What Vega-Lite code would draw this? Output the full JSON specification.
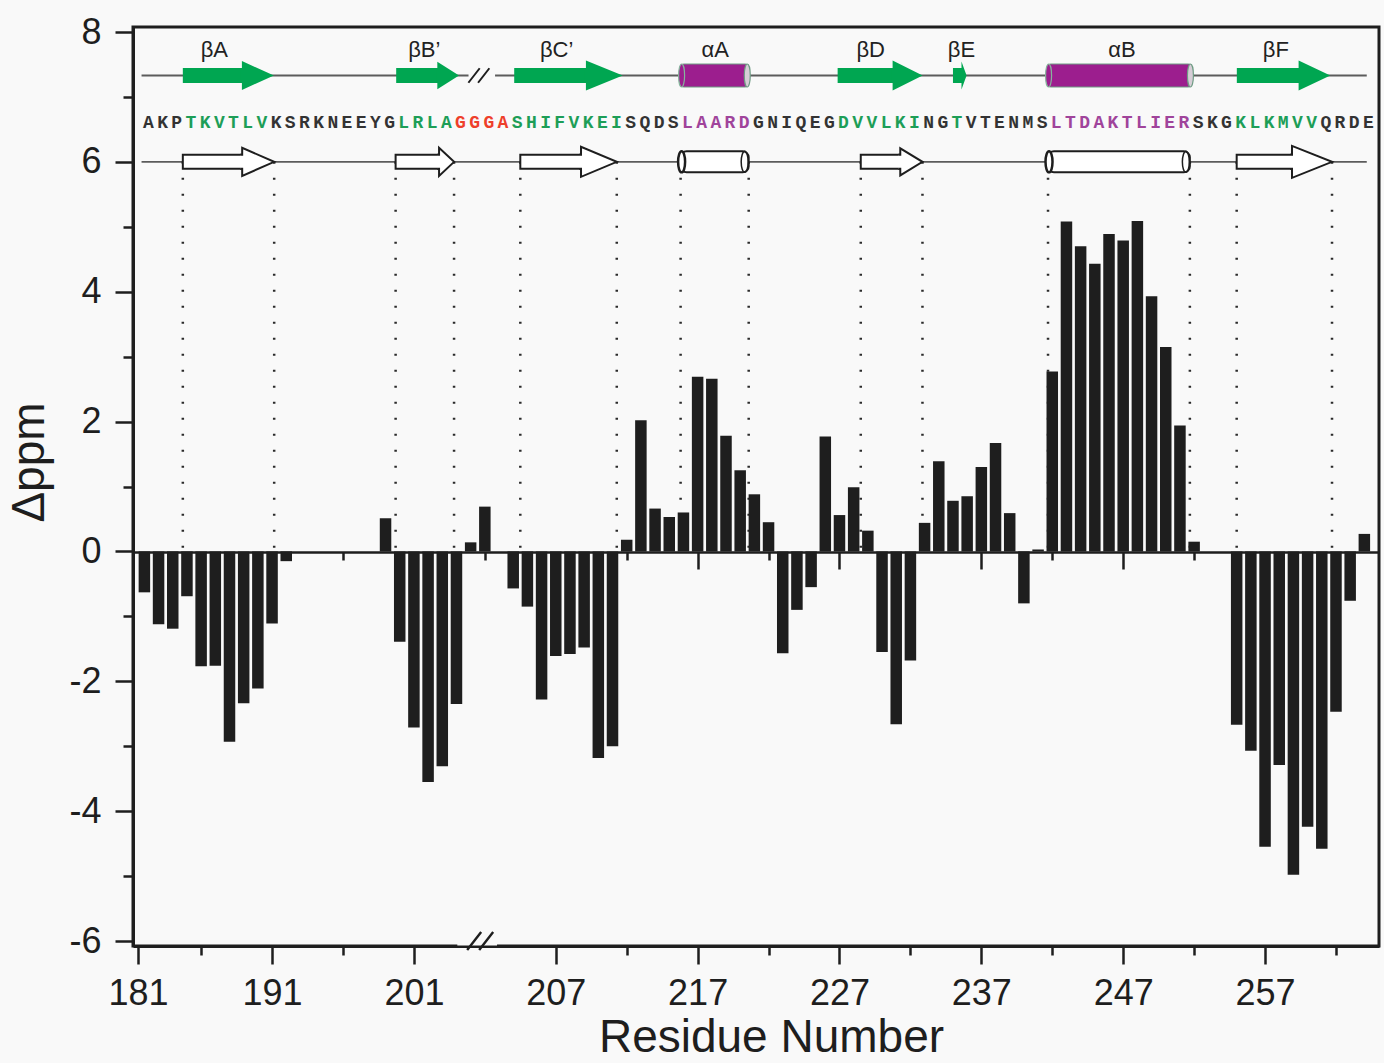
{
  "$schema": "https://vega.github.io/schema/vega-lite/v6.json",
  "width": 1246,
  "height": 919,
  "autosize": "none",
  "padding": {"left": 133, "top": 27, "right": 5, "bottom": 117},
  "background": "#f9f9f9",
  "config": {
    "view": {"stroke": "#1e1e1e", "strokeWidth": 3},
    "axis": {"grid": false, "labelFont": "Liberation Sans", "titleFont": "Liberation Sans", "tickColor": "#1e1e1e", "domainColor": "#1e1e1e", "labelColor": "#1e1e1e", "titleColor": "#1e1e1e", "tickWidth": 2.5, "domainWidth": 3}
  },
  "datasets": {
    "shifts": [
      {"slot": 0, "ppm": -0.63}, {"slot": 1, "ppm": -1.12}, {"slot": 2, "ppm": -1.19}, {"slot": 3, "ppm": -0.69},
      {"slot": 4, "ppm": -1.77}, {"slot": 5, "ppm": -1.76}, {"slot": 6, "ppm": -2.93}, {"slot": 7, "ppm": -2.34},
      {"slot": 8, "ppm": -2.11}, {"slot": 9, "ppm": -1.11}, {"slot": 10, "ppm": -0.15},
      {"slot": 17, "ppm": 0.51}, {"slot": 18, "ppm": -1.39}, {"slot": 19, "ppm": -2.71}, {"slot": 20, "ppm": -3.55},
      {"slot": 21, "ppm": -3.31}, {"slot": 22, "ppm": -2.35}, {"slot": 23, "ppm": 0.14}, {"slot": 24, "ppm": 0.69},
      {"slot": 26, "ppm": -0.57}, {"slot": 27, "ppm": -0.85}, {"slot": 28, "ppm": -2.28}, {"slot": 29, "ppm": -1.61},
      {"slot": 30, "ppm": -1.58}, {"slot": 31, "ppm": -1.48}, {"slot": 32, "ppm": -3.18}, {"slot": 33, "ppm": -3.0},
      {"slot": 34, "ppm": 0.18}, {"slot": 35, "ppm": 2.02}, {"slot": 36, "ppm": 0.66}, {"slot": 37, "ppm": 0.53},
      {"slot": 38, "ppm": 0.6}, {"slot": 39, "ppm": 2.69}, {"slot": 40, "ppm": 2.66}, {"slot": 41, "ppm": 1.78},
      {"slot": 42, "ppm": 1.25}, {"slot": 43, "ppm": 0.88}, {"slot": 44, "ppm": 0.45}, {"slot": 45, "ppm": -1.57},
      {"slot": 46, "ppm": -0.9}, {"slot": 47, "ppm": -0.55}, {"slot": 48, "ppm": 1.77}, {"slot": 49, "ppm": 0.56},
      {"slot": 50, "ppm": 0.99}, {"slot": 51, "ppm": 0.32}, {"slot": 52, "ppm": -1.55}, {"slot": 53, "ppm": -2.66},
      {"slot": 54, "ppm": -1.68}, {"slot": 55, "ppm": 0.44}, {"slot": 56, "ppm": 1.39}, {"slot": 57, "ppm": 0.78},
      {"slot": 58, "ppm": 0.85}, {"slot": 59, "ppm": 1.3}, {"slot": 60, "ppm": 1.67}, {"slot": 61, "ppm": 0.59},
      {"slot": 62, "ppm": -0.8}, {"slot": 63, "ppm": 0.03}, {"slot": 64, "ppm": 2.77}, {"slot": 65, "ppm": 5.08},
      {"slot": 66, "ppm": 4.7}, {"slot": 67, "ppm": 4.43}, {"slot": 68, "ppm": 4.89}, {"slot": 69, "ppm": 4.79},
      {"slot": 70, "ppm": 5.09}, {"slot": 71, "ppm": 3.93}, {"slot": 72, "ppm": 3.15}, {"slot": 73, "ppm": 1.94},
      {"slot": 74, "ppm": 0.15}, {"slot": 77, "ppm": -2.67}, {"slot": 78, "ppm": -3.07}, {"slot": 79, "ppm": -4.55},
      {"slot": 80, "ppm": -3.29}, {"slot": 81, "ppm": -4.98}, {"slot": 82, "ppm": -4.24}, {"slot": 83, "ppm": -4.58},
      {"slot": 84, "ppm": -2.47}, {"slot": 85, "ppm": -0.76}, {"slot": 86, "ppm": 0.27}
    ],
    "topTrack": [
      {"label": "βA", "kind": "strand", "start": 2.71, "headStart": 6.89, "end": 9.13, "labelAt": 4.93},
      {"label": "βB’", "kind": "strand", "start": 17.75, "headStart": 20.66, "end": 22.18, "labelAt": 19.73},
      {"label": "βC’", "kind": "strand", "start": 26.07, "headStart": 31.15, "end": 33.72, "labelAt": 29.06},
      {"label": "αA", "kind": "helix", "start": 37.8, "end": 42.57, "labelAt": 40.24},
      {"label": "βD", "kind": "strand", "start": 48.87, "headStart": 52.76, "end": 54.86, "labelAt": 51.2},
      {"label": "βE", "kind": "strand", "start": 57.0, "headStart": 57.6, "end": 57.96, "labelAt": 57.6},
      {"label": "αB", "kind": "helix", "start": 63.67, "end": 73.81, "labelAt": 68.92},
      {"label": "βF", "kind": "strand", "start": 77.01, "headStart": 81.38, "end": 83.6, "labelAt": 79.76}
    ],
    "bottomTrack": [
      {"label": "βA", "kind": "strand", "start": 2.71, "headStart": 6.91, "end": 9.15},
      {"label": "βB’", "kind": "strand", "start": 17.71, "headStart": 20.78, "end": 21.83},
      {"label": "βC’", "kind": "strand", "start": 26.5, "headStart": 30.8, "end": 33.3},
      {"label": "αA", "kind": "helix", "start": 37.8, "end": 42.6},
      {"label": "βD", "kind": "strand", "start": 50.5, "headStart": 53.3, "end": 54.85},
      {"label": "αB", "kind": "helix", "start": 63.7, "end": 73.7},
      {"label": "βF", "kind": "strand", "start": 77.0, "headStart": 80.92, "end": 83.72}
    ],
    "sequence": [
      {"slot": 0, "aa": "A", "region": "coil"}, {"slot": 1, "aa": "K", "region": "coil"}, {"slot": 2, "aa": "P", "region": "coil"},
      {"slot": 3, "aa": "T", "region": "strand"}, {"slot": 4, "aa": "K", "region": "strand"}, {"slot": 5, "aa": "V", "region": "strand"},
      {"slot": 6, "aa": "T", "region": "strand"}, {"slot": 7, "aa": "L", "region": "strand"}, {"slot": 8, "aa": "V", "region": "strand"},
      {"slot": 9, "aa": "K", "region": "coil"}, {"slot": 10, "aa": "S", "region": "coil"}, {"slot": 11, "aa": "R", "region": "coil"},
      {"slot": 12, "aa": "K", "region": "coil"}, {"slot": 13, "aa": "N", "region": "coil"}, {"slot": 14, "aa": "E", "region": "coil"},
      {"slot": 15, "aa": "E", "region": "coil"}, {"slot": 16, "aa": "Y", "region": "coil"}, {"slot": 17, "aa": "G", "region": "coil"},
      {"slot": 18, "aa": "L", "region": "strand"}, {"slot": 19, "aa": "R", "region": "strand"}, {"slot": 20, "aa": "L", "region": "strand"},
      {"slot": 21, "aa": "A", "region": "strand"}, {"slot": 22, "aa": "G", "region": "linker"}, {"slot": 23, "aa": "G", "region": "linker"},
      {"slot": 24, "aa": "G", "region": "linker"}, {"slot": 25, "aa": "A", "region": "linker"}, {"slot": 26, "aa": "S", "region": "strand"},
      {"slot": 27, "aa": "H", "region": "strand"}, {"slot": 28, "aa": "I", "region": "strand"}, {"slot": 29, "aa": "F", "region": "strand"},
      {"slot": 30, "aa": "V", "region": "strand"}, {"slot": 31, "aa": "K", "region": "strand"}, {"slot": 32, "aa": "E", "region": "strand"},
      {"slot": 33, "aa": "I", "region": "strand"}, {"slot": 34, "aa": "S", "region": "coil"}, {"slot": 35, "aa": "Q", "region": "coil"},
      {"slot": 36, "aa": "D", "region": "coil"}, {"slot": 37, "aa": "S", "region": "coil"}, {"slot": 38, "aa": "L", "region": "helix"},
      {"slot": 39, "aa": "A", "region": "helix"}, {"slot": 40, "aa": "A", "region": "helix"}, {"slot": 41, "aa": "R", "region": "helix"},
      {"slot": 42, "aa": "D", "region": "helix"}, {"slot": 43, "aa": "G", "region": "coil"}, {"slot": 44, "aa": "N", "region": "coil"},
      {"slot": 45, "aa": "I", "region": "coil"}, {"slot": 46, "aa": "Q", "region": "coil"}, {"slot": 47, "aa": "E", "region": "coil"},
      {"slot": 48, "aa": "G", "region": "coil"}, {"slot": 49, "aa": "D", "region": "strand"}, {"slot": 50, "aa": "V", "region": "strand"},
      {"slot": 51, "aa": "V", "region": "strand"}, {"slot": 52, "aa": "L", "region": "strand"}, {"slot": 53, "aa": "K", "region": "strand"},
      {"slot": 54, "aa": "I", "region": "strand"}, {"slot": 55, "aa": "N", "region": "coil"}, {"slot": 56, "aa": "G", "region": "coil"},
      {"slot": 57, "aa": "T", "region": "strand"}, {"slot": 58, "aa": "V", "region": "coil"}, {"slot": 59, "aa": "T", "region": "coil"},
      {"slot": 60, "aa": "E", "region": "coil"}, {"slot": 61, "aa": "N", "region": "coil"}, {"slot": 62, "aa": "M", "region": "coil"},
      {"slot": 63, "aa": "S", "region": "coil"}, {"slot": 64, "aa": "L", "region": "helix"}, {"slot": 65, "aa": "T", "region": "helix"},
      {"slot": 66, "aa": "D", "region": "helix"}, {"slot": 67, "aa": "A", "region": "helix"}, {"slot": 68, "aa": "K", "region": "helix"},
      {"slot": 69, "aa": "T", "region": "helix"}, {"slot": 70, "aa": "L", "region": "helix"}, {"slot": 71, "aa": "I", "region": "helix"},
      {"slot": 72, "aa": "E", "region": "helix"}, {"slot": 73, "aa": "R", "region": "helix"}, {"slot": 74, "aa": "S", "region": "coil"},
      {"slot": 75, "aa": "K", "region": "coil"}, {"slot": 76, "aa": "G", "region": "coil"}, {"slot": 77, "aa": "K", "region": "strand"},
      {"slot": 78, "aa": "L", "region": "strand"}, {"slot": 79, "aa": "K", "region": "strand"}, {"slot": 80, "aa": "M", "region": "strand"},
      {"slot": 81, "aa": "V", "region": "strand"}, {"slot": 82, "aa": "V", "region": "strand"}, {"slot": 83, "aa": "Q", "region": "coil"},
      {"slot": 84, "aa": "R", "region": "coil"}, {"slot": 85, "aa": "D", "region": "coil"}, {"slot": 86, "aa": "E", "region": "coil"}
    ]
  },
  "layer": [
    {
      "data": {"values": [{}]},
      "mark": {"type": "rule", "stroke": "#5c5c5c", "strokeWidth": 1.8},
      "encoding": {
        "x": {"datum": -0.2, "type": "quantitative", "scale": {"domain": [-0.45, 86.68], "nice": false, "zero": false}, "axis": null},
        "x2": {"datum": 22.85},
        "y": {"datum": 7.33, "type": "quantitative", "scale": {"domain": [-6, 8], "nice": false},
              "axis": {"orient": "left", "values": [-5, -3, -1, 1, 3, 5, 7], "tickSize": 10, "labels": false, "domain": false, "title": null}}
      }
    },
    {
      "data": {"values": [{}]},
      "mark": {"type": "rule", "stroke": "#5c5c5c", "strokeWidth": 1.8},
      "encoding": {
        "x": {"datum": 24.72, "type": "quantitative", "scale": {"domain": [-0.45, 86.68], "nice": false, "zero": false}, "axis": null},
        "x2": {"datum": 86.17},
        "y": {"datum": 7.33, "type": "quantitative", "scale": {"domain": [-6, 8], "nice": false}, "axis": null}
      }
    },
    {
      "data": {"values": [{}]},
      "mark": {"type": "rule", "stroke": "#5c5c5c", "strokeWidth": 1.8},
      "encoding": {
        "x": {"datum": -0.2, "type": "quantitative", "scale": {"domain": [-0.45, 86.68], "nice": false, "zero": false},
              "axis": {"orient": "bottom", "offset": -394, "values": [4, 14, 24, 34, 44, 54, 64, 74, 84], "tickSize": 8, "labels": false, "domain": false, "title": null}},
        "x2": {"datum": 86.17},
        "y": {"datum": 6, "type": "quantitative", "scale": {"domain": [-6, 8], "nice": false}, "axis": null}
      }
    },
    {
      "data": {"name": "bottomTrack"},
      "transform": [{"fold": ["start", "end"], "as": ["edge", "at"]}],
      "mark": {"type": "rule", "stroke": "#2a2a2a", "strokeWidth": 2.5, "strokeDash": [2, 14]},
      "encoding": {
        "x": {"field": "at", "type": "quantitative", "scale": {"domain": [-0.45, 86.68], "nice": false, "zero": false},
              "axis": {"orient": "bottom", "offset": -394, "values": [9, 19, 29, 39, 49, 59, 69, 79], "tickSize": 17, "labels": false, "domain": true, "domainWidth": 2.5, "title": null}},
        "y": {"datum": 6, "type": "quantitative", "scale": {"domain": [-6, 8], "nice": false}, "axis": null},
        "y2": {"datum": 0}
      }
    },
    {
      "data": {"name": "shifts"},
      "mark": {"type": "bar", "orient": "vertical", "width": 11.5, "color": "#1e1e1e"},
      "encoding": {
        "x": {"field": "slot", "type": "quantitative", "scale": {"domain": [-0.45, 86.68], "nice": false, "zero": false},
              "axis": {"orient": "bottom", "values": [-0.45, 9, 19, 29, 39, 49, 59, 69, 79],
                       "labelExpr": "datum.value < 0 ? '181' : datum.value < 22 ? format(datum.value + 182, 'd') : format(datum.value + 178, 'd')",
                       "tickSize": 18, "labelFontSize": 36, "labelPadding": 12, "labelFlush": false, "labelOverlap": false, "labelBound": false,
                       "title": "Residue Number", "titleFontSize": 46, "titleFontWeight": "normal", "titleX": 638, "titleY": 105,
                       "titleBaseline": "alphabetic", "titleAlign": "center"}},
        "y": {"field": "ppm", "type": "quantitative", "scale": {"domain": [-6, 8], "nice": false},
              "axis": {"orient": "left", "values": [-6, -4, -2, 0, 2, 4, 6, 8], "labelExpr": "'' + datum.value",
                       "tickSize": 18, "labelFontSize": 36, "labelPadding": 14, "labelFlush": false, "labelOverlap": false,
                       "title": "Δppm", "titleFontSize": 46, "titleFontWeight": "normal", "titleAngle": 270, "titleX": -80, "titleY": 435,
                       "titleBaseline": "bottom", "titleAlign": "center"}},
        "y2": {"datum": 0}
      }
    },
    {
      "data": {"name": "topTrack"},
      "transform": [{"filter": "datum.kind === 'strand'"}],
      "mark": {"type": "bar", "orient": "horizontal", "height": 15, "color": "#00a651"},
      "encoding": {
        "x": {"field": "start", "type": "quantitative", "scale": {"domain": [-0.45, 86.68], "nice": false, "zero": false}, "axis": null},
        "x2": {"field": "headStart"},
        "y": {"datum": 7.33, "type": "quantitative", "scale": {"domain": [-6, 8], "nice": false}, "axis": null}
      }
    },
    {
      "data": {"name": "topTrack"},
      "transform": [{"filter": "datum.kind === 'strand'"}],
      "mark": {"type": "point", "filled": true, "size": 4, "opacity": 1, "color": "#00a651", "strokeWidth": 0},
      "encoding": {
        "x": {"field": "end", "type": "quantitative", "scale": {"domain": [-0.45, 86.68], "nice": false, "zero": false}, "axis": null},
        "y": {"datum": 7.33, "type": "quantitative", "scale": {"domain": [-6, 8], "nice": false}, "axis": null},
        "shape": {"field": "label", "type": "nominal", "legend": null,
                  "scale": {"domain": ["βA", "βB’", "βC’", "βD", "βE", "βF"],
                            "range": ["M-33,-7.5L-32,-7.5L-32,-14.5L0,0L-32,14.5L-32,7.5L-33,7.5Z",
                                      "M-22.7,-7.5L-21.7,-7.5L-21.7,-13.7L0,0L-21.7,13.7L-21.7,7.5L-22.7,7.5Z",
                                      "M-37.8,-7.5L-36.8,-7.5L-36.8,-15L0,0L-36.8,15L-36.8,7.5L-37.8,7.5Z",
                                      "M-31,-7.5L-30,-7.5L-30,-15L0,0L-30,15L-30,7.5L-31,7.5Z",
                                      "M-6.1,-7.5L-5.1,-7.5L-5.1,-14L0,0L-5.1,14L-5.1,7.5L-6.1,7.5Z",
                                      "M-32.7,-7.5L-31.7,-7.5L-31.7,-15L0,0L-31.7,15L-31.7,7.5L-32.7,7.5Z"]}}
      }
    },
    {
      "data": {"name": "topTrack"},
      "transform": [{"filter": "datum.kind === 'helix'"}],
      "mark": {"type": "bar", "orient": "horizontal", "height": 23, "color": "#9c1e8e", "stroke": "#6e9c84", "strokeWidth": 1, "cornerRadius": 3},
      "encoding": {
        "x": {"field": "start", "type": "quantitative", "scale": {"domain": [-0.45, 86.68], "nice": false, "zero": false}, "axis": null},
        "x2": {"field": "end"},
        "y": {"datum": 7.33, "type": "quantitative", "scale": {"domain": [-6, 8], "nice": false}, "axis": null}
      }
    },
    {
      "data": {"name": "topTrack"},
      "transform": [{"filter": "datum.kind === 'helix'"}],
      "mark": {"type": "point", "size": 4, "opacity": 1, "filled": true, "fill": "#d6cdd6", "stroke": "#6e9c84", "strokeWidth": 1.2, "xOffset": -1,
               "shape": "M3,0C3,6.35 1.66,11.5 0,11.5C-1.66,11.5 -3,6.35 -3,0C-3,-6.35 -1.66,-11.5 0,-11.5C1.66,-11.5 3,-6.35 3,0Z"},
      "encoding": {
        "x": {"field": "end", "type": "quantitative", "scale": {"domain": [-0.45, 86.68], "nice": false, "zero": false}, "axis": null},
        "y": {"datum": 7.33, "type": "quantitative", "scale": {"domain": [-6, 8], "nice": false}, "axis": null}
      }
    },
    {
      "data": {"name": "topTrack"},
      "transform": [{"filter": "datum.kind === 'helix'"}],
      "mark": {"type": "point", "size": 4, "opacity": 1, "filled": true, "fill": "#9c1e8e", "stroke": "#86b49c", "strokeWidth": 1.2, "xOffset": 1,
               "shape": "M3,0C3,6.35 1.66,11.5 0,11.5C-1.66,11.5 -3,6.35 -3,0C-3,-6.35 -1.66,-11.5 0,-11.5C1.66,-11.5 3,-6.35 3,0Z"},
      "encoding": {
        "x": {"field": "start", "type": "quantitative", "scale": {"domain": [-0.45, 86.68], "nice": false, "zero": false}, "axis": null},
        "y": {"datum": 7.33, "type": "quantitative", "scale": {"domain": [-6, 8], "nice": false}, "axis": null}
      }
    },
    {
      "data": {"name": "topTrack"},
      "mark": {"type": "text", "font": "Liberation Sans", "fontSize": 22, "color": "#222222"},
      "encoding": {
        "x": {"field": "labelAt", "type": "quantitative", "scale": {"domain": [-0.45, 86.68], "nice": false, "zero": false}, "axis": null},
        "y": {"datum": 7.73, "type": "quantitative", "scale": {"domain": [-6, 8], "nice": false}, "axis": null},
        "text": {"field": "label"}
      }
    },
    {
      "data": {"name": "sequence"},
      "mark": {"type": "text", "font": "Liberation Mono", "fontSize": 18, "fontWeight": "bold", "dx": 4},
      "encoding": {
        "x": {"field": "slot", "type": "quantitative", "scale": {"domain": [-0.45, 86.68], "nice": false, "zero": false},
              "axis": {"orient": "bottom", "values": [4, 14, 34, 44, 54, 64, 74, 84], "tickSize": 9, "labels": false, "domain": false, "title": null}},
        "y": {"datum": 6.6, "type": "quantitative", "scale": {"domain": [-6, 8], "nice": false}, "axis": null},
        "text": {"field": "aa"},
        "color": {"field": "region", "type": "nominal", "legend": null,
                  "scale": {"domain": ["coil", "strand", "helix", "linker"], "range": ["#333333", "#1d9e57", "#a0449b", "#ee3f2b"]}}
      }
    },
    {
      "data": {"name": "bottomTrack"},
      "transform": [{"filter": "datum.kind === 'strand'"}],
      "mark": {"type": "bar", "orient": "horizontal", "height": 14, "fill": "#ffffff", "stroke": "#1e1e1e", "strokeWidth": 2},
      "encoding": {
        "x": {"field": "start", "type": "quantitative", "scale": {"domain": [-0.45, 86.68], "nice": false, "zero": false}, "axis": null},
        "x2": {"field": "headStart"},
        "y": {"datum": 6, "type": "quantitative", "scale": {"domain": [-6, 8], "nice": false}, "axis": null}
      }
    },
    {
      "data": {"name": "bottomTrack"},
      "transform": [{"filter": "datum.kind === 'strand'"}],
      "mark": {"type": "point", "filled": true, "size": 4, "opacity": 1, "fill": "#ffffff", "stroke": "#1e1e1e", "strokeWidth": 2},
      "encoding": {
        "x": {"field": "end", "type": "quantitative", "scale": {"domain": [-0.45, 86.68], "nice": false, "zero": false}, "axis": null},
        "y": {"datum": 6, "type": "quantitative", "scale": {"domain": [-6, 8], "nice": false}, "axis": null},
        "shape": {"field": "label", "type": "nominal", "legend": null,
                  "scale": {"domain": ["βA", "βB’", "βC’", "βD", "βF"],
                            "range": ["M-34,-7L-32,-7L-32,-14L0,0L-32,14L-32,7L-34,7",
                                      "M-17,-7L-15,-7L-15,-14L0,0L-15,14L-15,7L-17,7",
                                      "M-37.75,-7L-35.75,-7L-35.75,-15L0,0L-35.75,15L-35.75,7L-37.75,7",
                                      "M-24.2,-7L-22.2,-7L-22.2,-13.5L0,0L-22.2,13.5L-22.2,7L-24.2,7",
                                      "M-42,-7L-40,-7L-40,-16L0,0L-40,16L-40,7L-42,7"]}}
      }
    },
    {
      "data": {"name": "bottomTrack"},
      "transform": [{"filter": "datum.kind === 'helix'"}],
      "mark": {"type": "bar", "orient": "horizontal", "height": 21, "fill": "#ffffff", "stroke": "#1e1e1e", "strokeWidth": 2, "cornerRadius": 6},
      "encoding": {
        "x": {"field": "start", "type": "quantitative", "scale": {"domain": [-0.45, 86.68], "nice": false, "zero": false}, "axis": null},
        "x2": {"field": "end"},
        "y": {"datum": 6, "type": "quantitative", "scale": {"domain": [-6, 8], "nice": false}, "axis": null}
      }
    },
    {
      "data": {"name": "bottomTrack"},
      "transform": [{"filter": "datum.kind === 'helix'"}],
      "mark": {"type": "point", "size": 4, "opacity": 1, "filled": true, "fill": "#ffffff", "stroke": "#1e1e1e", "strokeWidth": 2.5, "xOffset": 1,
               "shape": "M3.5,0C3.5,5.8 1.93,10.5 0,10.5C-1.93,10.5 -3.5,5.8 -3.5,0C-3.5,-5.8 -1.93,-10.5 0,-10.5C1.93,-10.5 3.5,-5.8 3.5,0Z"},
      "encoding": {
        "x": {"field": "start", "type": "quantitative", "scale": {"domain": [-0.45, 86.68], "nice": false, "zero": false}, "axis": null},
        "y": {"datum": 6, "type": "quantitative", "scale": {"domain": [-6, 8], "nice": false}, "axis": null}
      }
    },
    {
      "data": {"name": "bottomTrack"},
      "transform": [{"filter": "datum.kind === 'helix'"}],
      "mark": {"type": "point", "size": 4, "opacity": 1, "filled": false, "stroke": "#1e1e1e", "strokeWidth": 1.5, "xOffset": -4,
               "shape": "M3.5,0C3.5,5.8 1.93,10.5 0,10.5C-1.93,10.5 -3.5,5.8 -3.5,0C-3.5,-5.8 -1.93,-10.5 0,-10.5C1.93,-10.5 3.5,-5.8 3.5,0Z"},
      "encoding": {
        "x": {"field": "end", "type": "quantitative", "scale": {"domain": [-0.45, 86.68], "nice": false, "zero": false}, "axis": null},
        "y": {"datum": 6, "type": "quantitative", "scale": {"domain": [-6, 8], "nice": false}, "axis": null}
      }
    },
    {
      "data": {"values": [{}]},
      "mark": {"type": "bar", "orient": "horizontal", "height": 9, "color": "#f9f9f9"},
      "encoding": {
        "x": {"datum": 22.06, "type": "quantitative", "scale": {"domain": [-0.45, 86.68], "nice": false, "zero": false}, "axis": null},
        "x2": {"datum": 24.86},
        "y": {"datum": -6, "type": "quantitative", "scale": {"domain": [-6, 8], "nice": false}, "axis": null}
      }
    },
    {
      "data": {"values": [{}]},
      "mark": {"type": "point", "size": 4, "opacity": 1, "filled": false, "color": "#1e1e1e", "strokeWidth": 2.4, "shape": "M-13,9L1,-9M-1,9L13,-9"},
      "encoding": {
        "x": {"datum": 23.67, "type": "quantitative", "scale": {"domain": [-0.45, 86.68], "nice": false, "zero": false}, "axis": null},
        "y": {"datum": -6, "type": "quantitative", "scale": {"domain": [-6, 8], "nice": false}, "axis": null}
      }
    },
    {
      "data": {"values": [{}]},
      "mark": {"type": "point", "size": 2.6, "opacity": 1, "filled": false, "color": "#1e1e1e", "strokeWidth": 2, "shape": "M-13,9L1,-9M-1,9L13,-9"},
      "encoding": {
        "x": {"datum": 23.58, "type": "quantitative", "scale": {"domain": [-0.45, 86.68], "nice": false, "zero": false}, "axis": null},
        "y": {"datum": 7.33, "type": "quantitative", "scale": {"domain": [-6, 8], "nice": false}, "axis": null}
      }
    }
  ],
  "resolve": {"axis": {"x": "independent", "y": "independent"}, "scale": {"shape": "independent"}}
}
